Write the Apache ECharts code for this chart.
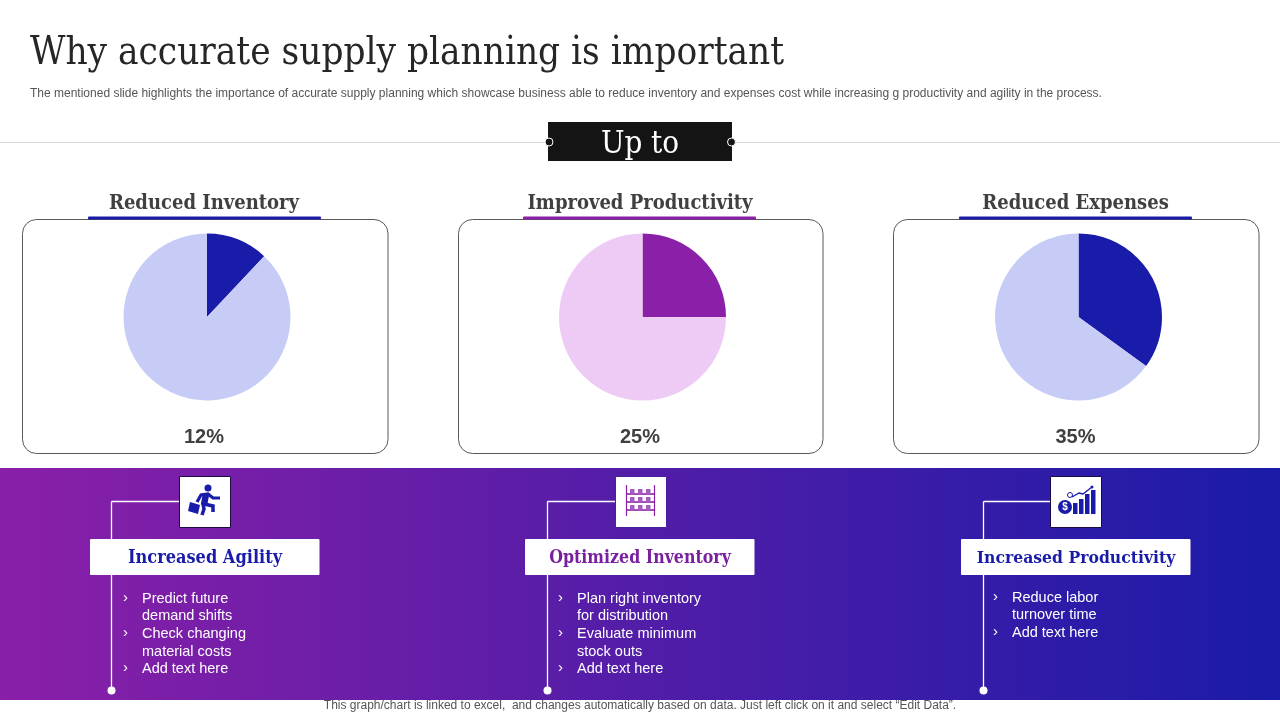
<!DOCTYPE html>
<html>
<head>
<meta charset="utf-8">
<style>
  html, body { margin: 0; padding: 0; background: #fff; }
  #chart { width: 1280px; height: 720px; }
</style>
<script src="https://cdn.jsdelivr.net/npm/echarts@6/dist/echarts.min.js"></script>
</head>
<body>
<div id="chart"></div>
<script>
// ======================
// DATA
// ======================
const chartTitles = ['Reduced Inventory', 'Improved Productivity', 'Reduced Expenses'];
const sliceValues = [12, 25, 35];
const restValues = [88, 75, 65];
const percentLabels = ['12%', '25%', '35%'];
const cardHeadings = ['Increased Agility', 'Optimized Inventory', 'Increased Productivity'];
const cardBullets = [
    [['Predict future', 'demand shifts'], ['Check changing', 'material costs'], ['Add text here']],
    [['Plan right inventory', 'for distribution'], ['Evaluate minimum', 'stock outs'], ['Add text here']],
    [['Reduce labor', 'turnover time'], ['Add text here']]
];

// ======================
// STYLE / LAYOUT
// ======================
const BLUE = '#191ba9', PURPLE = '#8a1fa8';
const SERIF = '"DejaVu Serif Condensed", "DejaVu Serif"', SANS = '"Liberation Sans"';
const darkColors = [BLUE, PURPLE, BLUE];
const lightColors = ['#c7ccf7', '#edcbf5', '#c7ccf7'];
const headingColors = [BLUE, '#7a1f9e', BLUE];

const cardX = [22, 458, 893];
const cardW = [365.5, 364.5, 365.5];
const pieX = [207, 642.5, 1078.5];
const labelX = [204, 640, 1075.5];
const accentX = [88, 523, 959];
const railX = [111, 547, 983];
const iconX = [179, 615, 1050];
const iconStroke = ['#1b0a45', '#4a1fa0', '#1b0a45'];
const headBoxX = [90, 525, 961];
const headSize = [18, 17.6, 17.4];
const bulletX = [123, 558, 993];
const bulletTop = [598.5, 598.5, 597.5];

const g = [];

function text(x, y, str, font, size, color, extra) {
    g.push({
        type: 'text', x, y, silent: true,
        style: Object.assign({
            text: str, fontFamily: font, fontSize: size, fill: color,
            textAlign: 'left', textVerticalAlign: 'middle'
        }, extra || {})
    });
}
function rect(x, y, w, h, fill, extra, r) {
    g.push({
        type: 'rect', silent: true,
        shape: { x, y, width: w, height: h, r: r || 0 },
        style: Object.assign({ fill }, extra || {})
    });
}
function line(x1, y1, x2, y2, stroke, width) {
    g.push({
        type: 'line', silent: true,
        shape: { x1, y1, x2, y2 },
        style: { stroke, lineWidth: width || 1 }
    });
}
function circle(cx, cy, r, fill, extra) {
    g.push({
        type: 'circle', silent: true,
        shape: { cx, cy, r },
        style: Object.assign({ fill }, extra || {})
    });
}
function poly(points, stroke, width) {
    g.push({
        type: 'polyline', silent: true,
        shape: { points },
        style: { stroke, lineWidth: width, fill: 'none' }
    });
}

// ======================
// HEADER
// ======================
text(30, 54.5, 'Why accurate supply planning is important', SERIF, 38.3, '#262626');
text(30, 93.5, 'The mentioned slide highlights the importance of accurate supply planning which showcase business able to reduce inventory and expenses cost while increasing g productivity and agility in the process.', SANS, 12, '#555555');

line(0, 142.5, 1280, 142.5, '#d9d9d9', 1);
rect(548, 122, 184, 39, '#141414');
text(640, 145, 'Up to', SERIF, 31, '#ffffff', { textAlign: 'center' });
circle(549, 142, 4, '#141414', { stroke: '#ffffff', lineWidth: 1 });
circle(731.5, 142, 4, '#141414', { stroke: '#ffffff', lineWidth: 1 });

// ======================
// PIE CARDS
// ======================
chartTitles.forEach((name, i) => {
    rect(cardX[i] + 0.5, 219.5, cardW[i], 234, '#ffffff', { stroke: '#595959', lineWidth: 1 }, 14);
    rect(accentX[i], 216.5, 233, 3, darkColors[i], null, 1);
    text(labelX[i], 204, name, SERIF, 20, '#404040', { textAlign: 'center', fontWeight: 'bold' });
    text(labelX[i], 437, percentLabels[i], SANS, 20, '#404040', { textAlign: 'center', fontWeight: 'bold' });
});

// ======================
// BOTTOM BAND
// ======================
g.push({
    type: 'rect', silent: true,
    shape: { x: 0, y: 468, width: 1280, height: 232 },
    style: {
        fill: new echarts.graphic.LinearGradient(0, 0, 1, 0, [
            { offset: 0, color: '#8a1fa8' },
            { offset: 1, color: '#1a1ba8' }
        ])
    }
});

cardHeadings.forEach((name, i) => {
    line(railX[i] + 0.5, 501.5, iconX[i], 501.5, '#ffffff', 1.3);
    line(railX[i] + 0.5, 501.5, railX[i] + 0.5, 690, '#ffffff', 1.3);
    circle(railX[i] + 0.5, 690.5, 4, '#ffffff');

    rect(iconX[i] + 0.5, 476.5, 51, 51, '#ffffff', { stroke: iconStroke[i], lineWidth: 1 });
    rect(headBoxX[i], 539, 229.5, 36, '#ffffff', null, 1);
    text(headBoxX[i] + 115, 558.5, name, SERIF, headSize[i], headingColors[i], { textAlign: 'center', fontWeight: 'bold' });

    let row = 0;
    cardBullets[i].forEach(item => {
        item.forEach((rowText, k) => {
            const y = bulletTop[i] + row * 17.7;
            if (k === 0) text(bulletX[i], y - 1, '›', SANS, 15, '#ffffff');
            text(bulletX[i] + 19, y, rowText, SANS, 14.5, '#ffffff');
            row++;
        });
    });
});

// ======================
// ICONS
// ======================
function agilityIcon(x, y) {
    circle(x + 29, y + 12, 3.5, BLUE);
    poly([[x + 18, y + 26], [x + 22, y + 19], [x + 29, y + 18], [x + 34, y + 22], [x + 41, y + 22]], BLUE, 3.2);
    poly([[x + 27, y + 18], [x + 25, y + 29]], BLUE, 6.5);
    poly([[x + 25, y + 28], [x + 34, y + 30], [x + 34, y + 36]], BLUE, 3.5);
    poly([[x + 24, y + 28], [x + 25, y + 33], [x + 23, y + 39]], BLUE, 3.5);
    g.push({
        type: 'polygon', silent: true,
        shape: { points: [[x + 11, y + 26], [x + 21, y + 29], [x + 19, y + 38], [x + 9, y + 35]] },
        style: { fill: BLUE }
    });
}
function shelfIcon(x, y) {
    const c = '#8a1fa8';
    line(x + 11.5, y + 9, x + 11.5, y + 40, c, 1.2);
    line(x + 39.5, y + 9, x + 39.5, y + 40, c, 1.2);
    [18, 26, 34].forEach(sy => {
        line(x + 11, y + sy, x + 40, y + sy, c, 1.6);
        [15, 23, 31].forEach(bx => rect(x + bx, y + sy - 5, 4.5, 5, '#a45cc0'));
    });
}
function growthIcon(x, y) {
    circle(x + 15, y + 31, 7, BLUE);
    text(x + 15, y + 31.5, '$', SANS, 10, '#ffffff', { textAlign: 'center', fontWeight: 'bold' });
    circle(x + 20, y + 19, 2.5, 'none', { stroke: BLUE, lineWidth: 1 });
    [[23, 11], [29, 15], [35, 20], [41, 24]].forEach(([bx, h]) => rect(x + bx, y + 38 - h, 4.5, h, BLUE));
    poly([[x + 22, y + 21], [x + 29, y + 17], [x + 33, y + 18], [x + 42, y + 11]], BLUE, 1.3);
    circle(x + 42, y + 11, 1.5, BLUE);
}
agilityIcon(iconX[0], 476);
shelfIcon(iconX[1], 476);
growthIcon(iconX[2], 476);

text(640, 705.5, 'This graph/chart is linked to excel,  and changes automatically based on data. Just left click on it and select “Edit Data”.', SANS, 12, '#555555', { textAlign: 'center' });

// ======================
// CHART
// ======================
const chart = echarts.init(document.getElementById('chart'), null, { renderer: 'canvas' });
chart.setOption({
    animation: false,
    backgroundColor: '#ffffff',
    graphic: { elements: g },
    series: chartTitles.map((name, i) => ({
        type: 'pie',
        name,
        z: 10,
        center: [pieX[i], 317],
        radius: [0, 83.5],
        startAngle: 90,
        clockwise: true,
        silent: true,
        label: { show: false },
        labelLine: { show: false },
        itemStyle: { borderWidth: 0 },
        data: [
            { value: sliceValues[i], name: percentLabels[i], itemStyle: { color: darkColors[i] } },
            { value: restValues[i], name: 'Rest', itemStyle: { color: lightColors[i] } }
        ]
    }))
});
</script>
</body>
</html>
